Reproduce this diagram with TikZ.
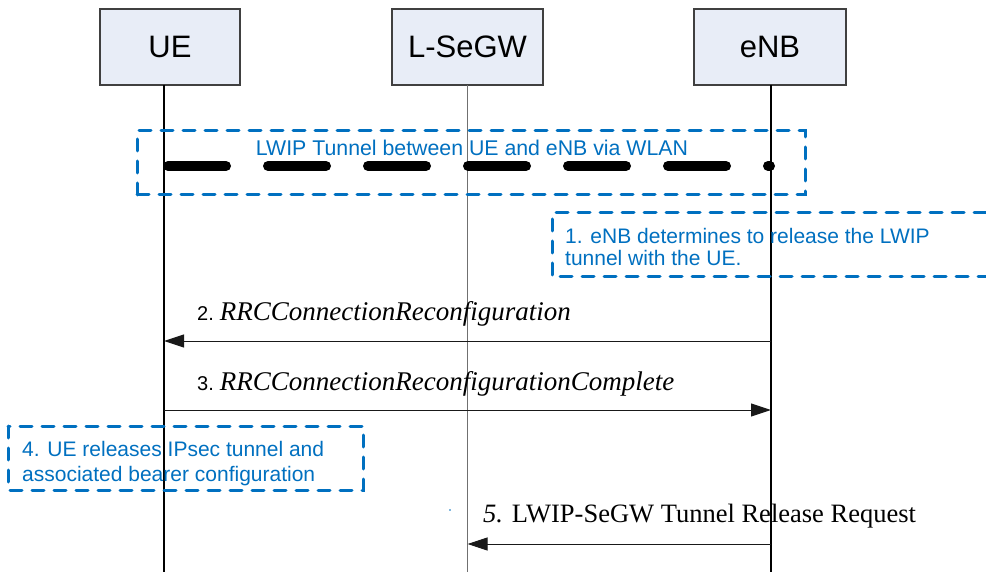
\documentclass[tikz,border=0pt]{standalone}
\usepackage{fontspec}
\setmainfont{Liberation Sans}
\newfontfamily\timesf{Liberation Serif}
\usetikzlibrary{arrows.meta}
\definecolor{boxfill}{HTML}{E8EDF7}
\definecolor{boxline}{HTML}{404040}
\definecolor{noteblue}{HTML}{0070C0}
\definecolor{lifegray}{HTML}{707070}
\tikzset{
  actor/.style={draw=boxline, fill=boxfill, line width=1.2pt, minimum width=#1,
    minimum height=76pt, inner sep=0pt, font=\fontsize{31}{36}\selectfont},
  life/.style={line width=1.2pt},
  notebox/.style={draw=noteblue, line width=3pt, dash pattern=on 12pt off 10pt, line cap=round},
  notetext/.style={text=noteblue, align=left, inner sep=0pt, anchor=north west},
  msg/.style={line width=1pt, draw=black!90, -{Triangle[length=20pt,width=13pt]}},
  msglabel/.style={anchor=base west, inner sep=0pt},
  tunnelline/.style={line width=10pt, line cap=round, dash pattern=on 58pt off 42pt},
}
\begin{document}
\begin{tikzpicture}[x=1pt,y=-1pt]
\fill[white] (0,0) rectangle (986,572);
\useasboundingbox (0,0) rectangle (986,572);

% actors
\node[actor=140pt] (ue) at (170,47) {UE};
\node[actor=151pt] (segw) at (467.5,47) {L-SeGW};
\node[actor=152pt] (enb) at (770,47) {eNB};

% lifelines
\coordinate (uetop) at (164,85);   \coordinate (uebot) at (164,572);
\coordinate (segwtop) at (467.5,85); \coordinate (segwbot) at (467.5,572);
\coordinate (enbtop) at (771,85);  \coordinate (enbbot) at (771,572);
\draw[life, black] (uetop) -- (uebot);
\draw[life, lifegray] (segwtop) -- (segwbot);
\draw[life, black] (enbtop) -- (enbbot);

% tunnel
\node[notebox, minimum width=668pt, minimum height=64pt, inner sep=0pt] (tunnel) at (471,163) {};
\coordinate (tstart) at (168,166);
\coordinate (tend) at (770,166);
\draw[tunnelline] (tstart) -- (tend);
\node[text=noteblue, anchor=base, inner sep=0pt, font=\fontsize{21.3}{22}\selectfont] (tunneltext) at (472,156)
  {LWIP Tunnel between UE and eNB via WLAN};

% step 1
\draw[notebox] (986,213) -- (552,213) -- (552,277) -- (986,277);
\node[notetext, font=\fontsize{21}{22}\selectfont] (note1) at (565,228)
  {1. eNB determines to release the LWIP\\tunnel with the UE.};

% step 2
\coordinate (m2a) at (771,341); \coordinate (m2b) at (164,341);
\draw[msg] (m2a) -- (m2b);
\node[msglabel] (l2) at (197,320)
  {{\fontsize{20}{24}\selectfont 2.}\hspace{6pt}{\timesf\itshape\fontsize{27}{30}\selectfont RRCConnectionReconfiguration}};

% step 3
\coordinate (m3a) at (164,410); \coordinate (m3b) at (771,410);
\draw[msg] (m3a) -- (m3b);
\node[msglabel] (l3) at (197,390)
  {{\fontsize{20}{24}\selectfont 3.}\hspace{6pt}{\timesf\itshape\fontsize{27}{30}\selectfont RRCConnectionReconfigurationComplete}};

% step 4
\draw[notebox] (8,426) rectangle (363,490);
\node[notetext, font=\fontsize{21}{25}\selectfont] (note4) at (22,441)
  {4. UE releases IPsec tunnel and\\associated bearer configuration};

% step 5
\fill[noteblue] (450,510) circle (0.9pt);
\coordinate (m5a) at (771,544); \coordinate (m5b) at (467.5,544);
\draw[msg] (m5a) -- (m5b);
\node[msglabel, font=\timesf\fontsize{26.5}{30}\selectfont] (l5) at (483,522)
  {\textit{5.} LWIP-SeGW Tunnel Release Request};
\end{tikzpicture}
\end{document}
